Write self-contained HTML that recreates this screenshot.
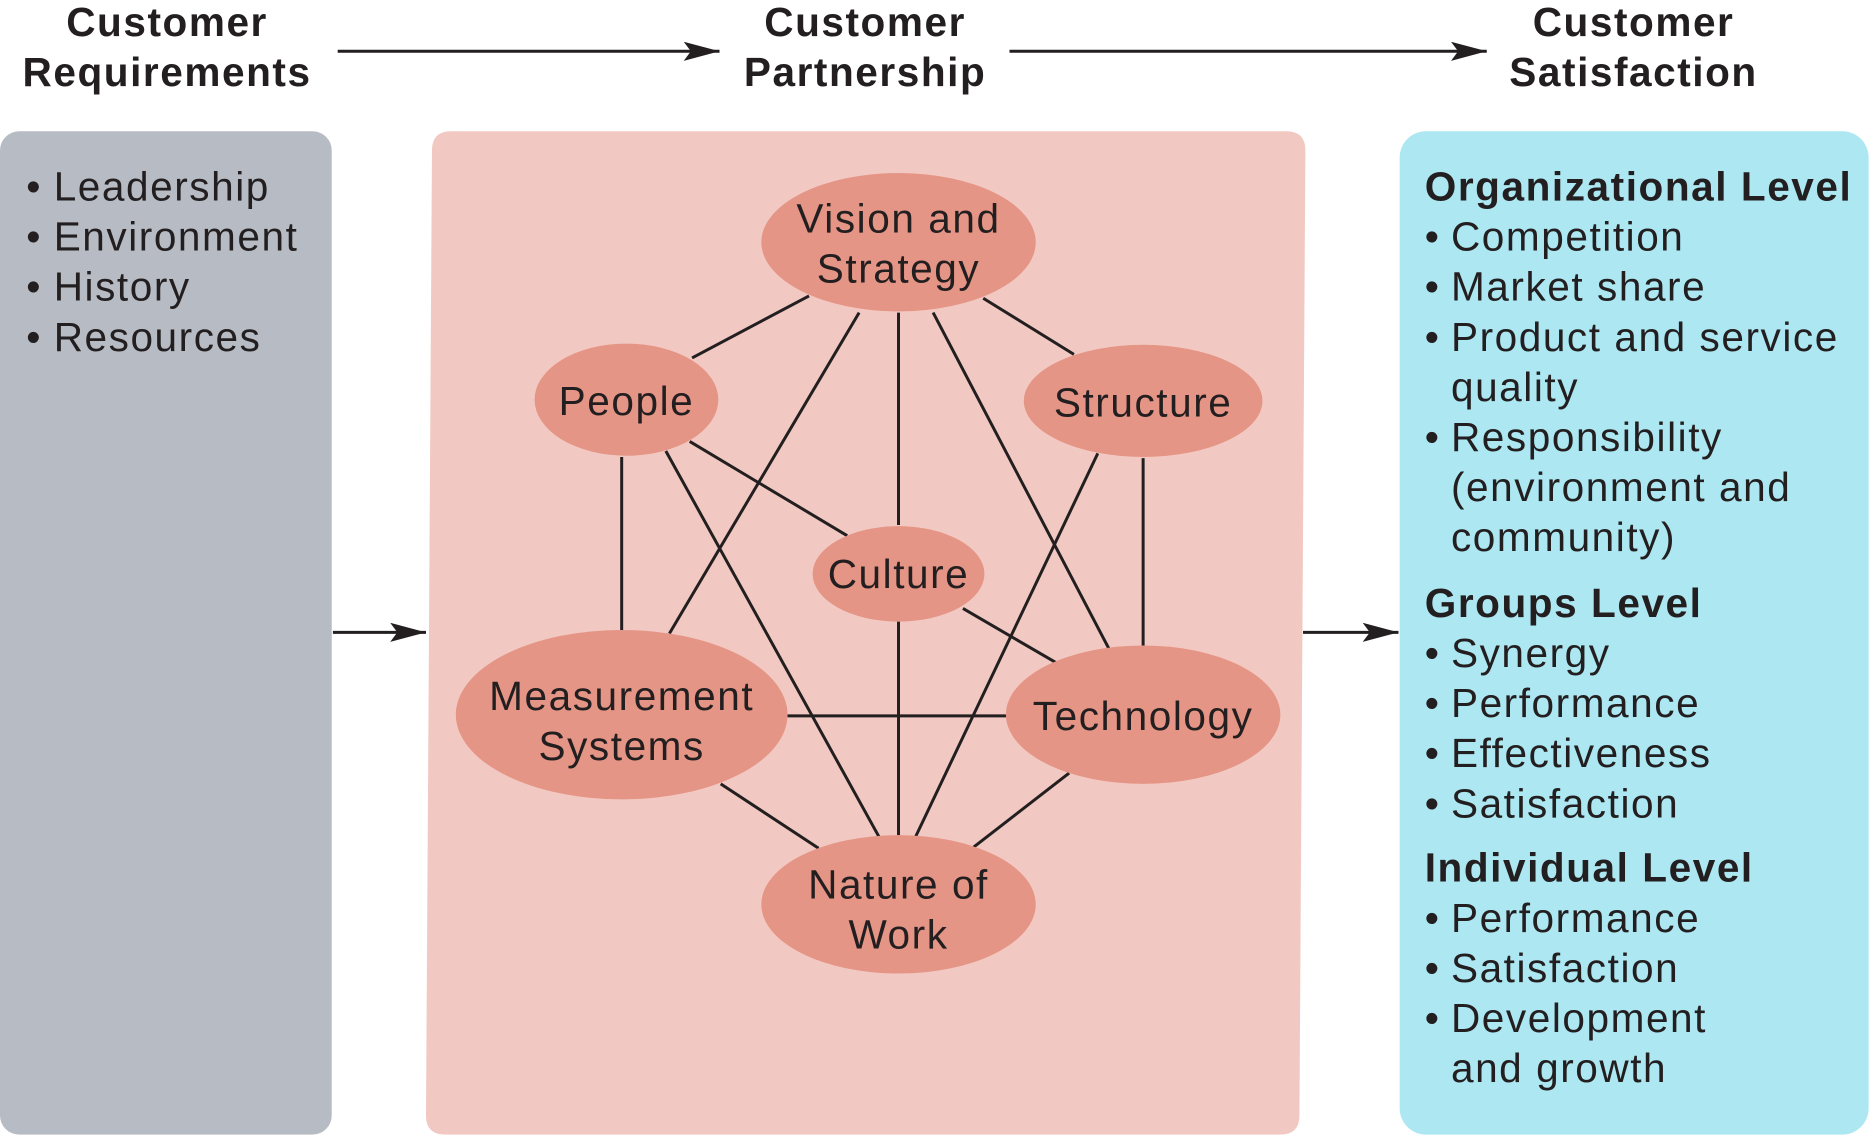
<!DOCTYPE html>
<html><head><meta charset="utf-8"><style>
html,body{margin:0;padding:0;background:#fff;}
svg{display:block;}
text{font-family:"Liberation Sans",sans-serif;fill:#231f20;font-size:34px;letter-spacing:1.3px;}
.h{font-weight:bold;text-anchor:middle;}
.e{text-anchor:middle;}
.b{font-weight:bold;}
</style></head><body>
<svg width="1871" height="1137" viewBox="0 0 1568 953" preserveAspectRatio="none" xmlns="http://www.w3.org/2000/svg">
<defs>
<marker id="ar" viewBox="0 0 30 16" markerWidth="30" markerHeight="16" refX="30" refY="8" orient="auto" markerUnits="userSpaceOnUse"><path d="M0,0 L30,8 L0,16 L6,8 Z" fill="#231f20"/></marker></defs>
<rect x="0" y="110" width="278" height="841" rx="16" fill="#b7bcc4"/>
<path d="M378,110 L1078,110 Q1094,110 1094,126 L1089,935 Q1089,951 1073,951 L373,951 Q357,951 357,935 L362,126 Q362,110 378,110 Z" fill="#f2c9c2"/>
<rect x="1173" y="110" width="393" height="841" rx="22" fill="#ace7f2"/>
<g stroke="#231f20" stroke-width="2.5">
<line x1="283" y1="43" x2="603" y2="43" marker-end="url(#ar)"/>
<line x1="846" y1="43" x2="1246" y2="43" marker-end="url(#ar)"/>
<line x1="279" y1="530" x2="357" y2="530" marker-end="url(#ar)"/>
<line x1="1092" y1="530" x2="1172" y2="530" marker-end="url(#ar)"/>
<line x1="580" y1="300" x2="678" y2="248"/>
<line x1="824" y1="250" x2="900" y2="297"/>
<line x1="753" y1="262" x2="753" y2="440"/>
<line x1="720" y1="262" x2="561" y2="531"/>
<line x1="782" y1="262" x2="930" y2="545"/>
<line x1="521" y1="383" x2="521" y2="528"/>
<line x1="558" y1="378" x2="737" y2="702"/>
<line x1="578" y1="370" x2="710" y2="449"/>
<line x1="920" y1="380" x2="767" y2="702"/>
<line x1="958" y1="384" x2="958" y2="541"/>
<line x1="807" y1="510" x2="886" y2="556"/>
<line x1="753" y1="521" x2="753" y2="700"/>
<line x1="660" y1="600" x2="845" y2="600"/>
<line x1="604" y1="657" x2="686" y2="711"/>
<line x1="896" y1="648" x2="816" y2="710"/>
</g>
<g fill="#e59585">
<ellipse cx="753" cy="203" rx="115" ry="58"/>
<ellipse cx="525" cy="335" rx="77" ry="47"/>
<ellipse cx="958" cy="336" rx="100" ry="47"/>
<ellipse cx="753" cy="481" rx="72" ry="40"/>
<ellipse cx="521" cy="599" rx="139" ry="71"/>
<ellipse cx="958" cy="599" rx="115" ry="58"/>
<ellipse cx="753" cy="758" rx="115" ry="58"/>
</g>
<text class="h" x="140" y="30">Customer</text><text class="h" x="140" y="72">Requirements</text>
<text class="h" x="725" y="30">Customer</text><text class="h" x="725" y="72">Partnership</text>
<text class="h" x="1369" y="30">Customer</text><text class="h" x="1369" y="72">Satisfaction</text>
<text class="e" x="753" y="195">Vision and</text><text class="e" x="753" y="237">Strategy</text>
<text class="e" x="525" y="348">People</text>
<text class="e" x="958" y="349">Structure</text>
<text class="e" x="753" y="493">Culture</text>
<text class="e" x="521" y="595">Measurement</text><text class="e" x="521" y="637">Systems</text>
<text class="e" x="958" y="612">Technology</text>
<text class="e" x="753" y="753">Nature of</text><text class="e" x="753" y="795">Work</text>
<text x="22" y="168">•<tspan x="45">Leadership</tspan></text>
<text x="22" y="210">•<tspan x="45">Environment</tspan></text>
<text x="22" y="252">•<tspan x="45">History</tspan></text>
<text x="22" y="294">•<tspan x="45">Resources</tspan></text>
<text class="b" x="1194" y="168">Organizational Level</text>
<text x="1194" y="210">•<tspan x="1216">Competition</tspan></text>
<text x="1194" y="252">•<tspan x="1216">Market share</tspan></text>
<text x="1194" y="294">•<tspan x="1216">Product and service</tspan></text>
<text x="1216" y="336">quality</text>
<text x="1194" y="378">•<tspan x="1216">Responsibility</tspan></text>
<text x="1216" y="420">(environment and</text>
<text x="1216" y="462">community)</text>
<text class="b" x="1194" y="517">Groups Level</text>
<text x="1194" y="559">•<tspan x="1216">Synergy</tspan></text>
<text x="1194" y="601">•<tspan x="1216">Performance</tspan></text>
<text x="1194" y="643">•<tspan x="1216">Effectiveness</tspan></text>
<text x="1194" y="685">•<tspan x="1216">Satisfaction</tspan></text>
<text class="b" x="1194" y="739">Individual Level</text>
<text x="1194" y="781">•<tspan x="1216">Performance</tspan></text>
<text x="1194" y="823">•<tspan x="1216">Satisfaction</tspan></text>
<text x="1194" y="865">•<tspan x="1216">Development</tspan></text>
<text x="1216" y="907">and growth</text>
</svg>
</body></html>
